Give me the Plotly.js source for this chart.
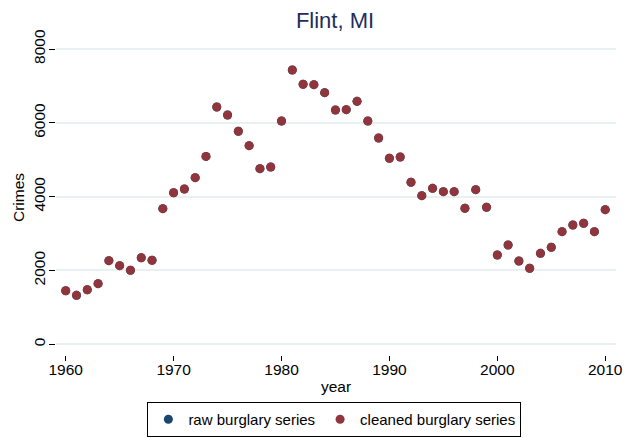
<!DOCTYPE html>
<html>
<head>
<meta charset="utf-8">
<script src="https://cdn.plot.ly/plotly-3.0.1.min.js"></script>
<style>html,body{margin:0;padding:0;background:#fff;}#chart{width:625px;height:438px;}</style>
</head>
<body>
<div id="chart"></div>
<script>
const years = [1960,1961,1962,1963,1964,1965,1966,1967,1968,1969,1970,1971,1972,1973,1974,1975,1976,1977,1978,1979,1980,1981,1982,1983,1984,1985,1986,1987,1988,1989,1990,1991,1992,1993,1994,1995,1996,1997,1998,1999,2000,2001,2002,2003,2004,2005,2006,2007,2008,2009,2010];
const rawBurglary = [1452,1327,1479,1642,2265,2130,2005,2346,2276,3674,4107,4208,4514,5090,6429,6212,5771,5381,4758,4804,6050,7432,7044,7034,6817,6348,6357,6583,6050,5589,5039,5075,4389,4026,4226,4135,4135,3685,4189,3712,2419,2690,2257,2059,2465,2628,3051,3232,3278,3051,3647];
const cleanedBurglary = [1452,1327,1479,1642,2265,2130,2005,2346,2276,3674,4107,4208,4514,5090,6429,6212,5771,5381,4758,4804,6050,7432,7044,7034,6817,6348,6357,6583,6050,5589,5039,5075,4389,4026,4226,4135,4135,3685,4189,3712,2419,2690,2257,2059,2465,2628,3051,3232,3278,3051,3647];
const seriesNames = ["raw burglary series", "cleaned burglary series"];
const yTicks = [0,2000,4000,6000,8000];
const xTicks = [1960,1970,1980,1990,2000,2010];

const font = "Liberation Sans, Arial, Helvetica, sans-serif";
const traces = [
  {x: years, y: rawBurglary, name: seriesNames[0], type: "scatter", mode: "markers",
   marker: {color: "#1a476f", size: 9}},
  {x: years, y: cleanedBurglary, name: seriesNames[1], type: "scatter", mode: "markers",
   marker: {color: "#90353b", size: 9}}
];
const layout = {
  width: 625, height: 438,
  margin: {l: 56, r: 9, t: 40, b: 83},
  paper_bgcolor: "#ffffff", plot_bgcolor: "#ffffff",
  font: {family: font, color: "#000000", size: 15.5},
  title: {text: "Flint, MI", font: {family: font, size: 22, color: "#1f2d5c"},
          x: 0.536, xanchor: "center", y: 0.953, yanchor: "middle"},
  xaxis: {range: [1959.1, 2011.0], tickvals: xTicks, ticks: "outside", ticklen: 5,
          tickcolor: "#000", tickwidth: 1, showgrid: false, zeroline: false, showline: false,
          ticklabelstandoff: -5,
          tickfont: {size: 15.5}, title: {text: "year", font: {size: 15.5}, standoff: 4}},
  yaxis: {range: [-290, 8244], tickvals: yTicks, ticks: "outside", ticklen: 6,
          tickcolor: "#000", tickwidth: 1, showgrid: true, gridcolor: "#e8f0f1", gridwidth: 1.5,
          zeroline: false, showline: false, tickangle: -90, tickfont: {size: 15.5},
          ticklabelstandoff: -2,
          title: {text: "Crimes", font: {size: 15.5}, standoff: 2}},
  showlegend: true,
  legend: {orientation: "h", x: 0.535, xref: "container", xanchor: "center",
           y: 0.0023, yref: "container", yanchor: "bottom",
           bordercolor: "#000", borderwidth: 1, font: {size: 15}, itemwidth: 30},
};
Plotly.newPlot("chart", traces, layout, {displayModeBar: false});
</script>
</body>
</html>
